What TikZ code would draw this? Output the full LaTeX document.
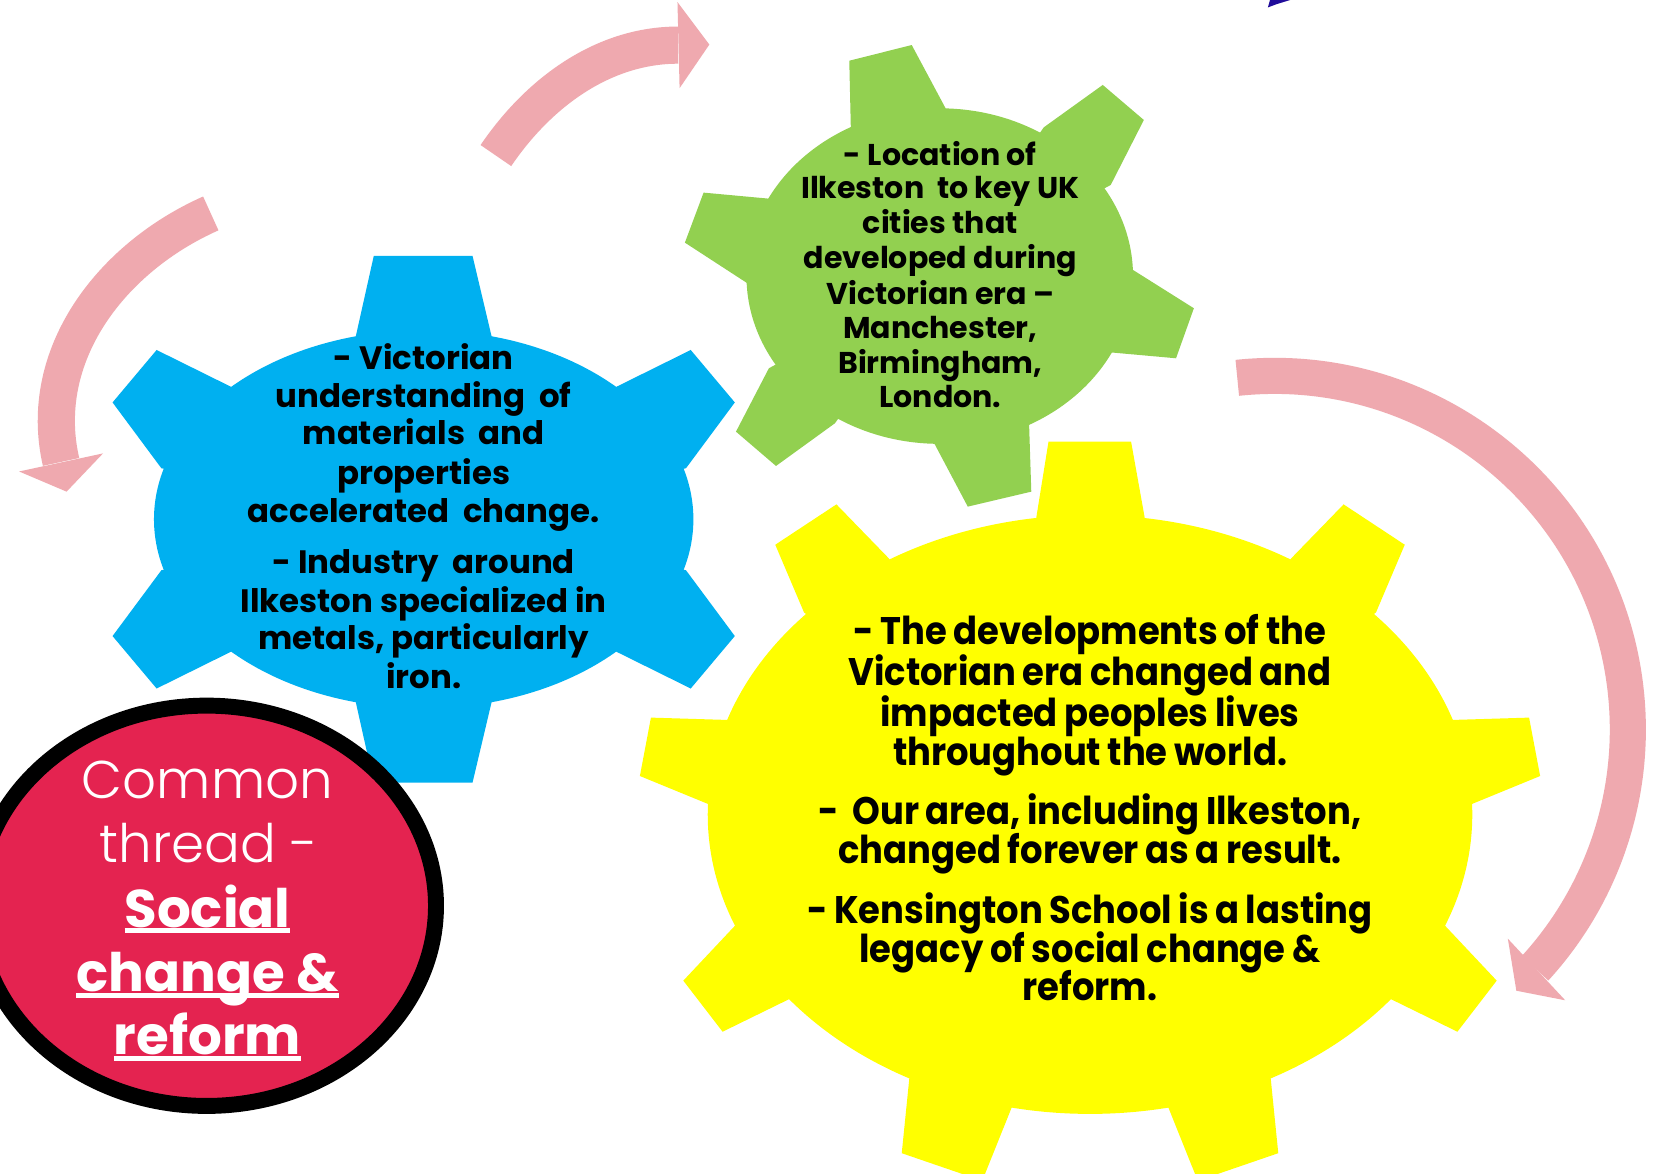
\documentclass[tikz,border=0pt]{standalone}
\usepackage{fontspec}
\setmainfont{Poppins}
\newfontfamily\ycond{Poppins}[FakeStretch=0.92]
\newfontfamily\plight{Poppins Light}
\definecolor{gblue}{HTML}{00B0F0}
\definecolor{ggreen}{HTML}{92D050}
\definecolor{gyellow}{HTML}{FFFF00}
\definecolor{apink}{HTML}{EFA9AF}
\definecolor{cred}{HTML}{E42350}
\definecolor{navyblue}{HTML}{200C9A}
\newsavebox\ulb
\newcommand\ulbox[1]{\sbox\ulb{#1}\rlap{\rule[-5.6pt]{\wd\ulb}{4.7pt}}\usebox\ulb}
\newcommand\tightsp{\spaceskip=0.17em\relax}
\begin{document}
\begin{tikzpicture}[x=1pt,y=-1pt,
  arrowband/.style={draw=apink, line width=35pt},
  headfill/.style={fill=apink},
  txt/.style={anchor=base, inner sep=0pt},
  btxt/.style={txt, font=\fontsize{30.5}{36}\selectfont\bfseries},
  gtxt/.style={txt, font=\fontsize{28.3}{33}\selectfont\bfseries},
  ytxt/.style={txt, font=\ycond\fontsize{36.2}{38}\selectfont\bfseries},
  ctxt/.style={txt, text=white, font=\plight\fontsize{50}{60}\selectfont},
  cbtxt/.style={txt, text=white, font=\fontsize{50}{60}\selectfont\bfseries}]
\useasboundingbox (0,0) rectangle (1568,1105);
\clip (0,0) rectangle (1568,1105);
\fill[white] (0,0) rectangle (1568,1105);

% pink arrows
\draw[arrowband] (467,146.5) .. controls (506.9,87.7) and (567.5,42.5) .. (638.5,42.5);
\fill[headfill] (638,2) -- (668,42) -- (640,83) -- cycle;
\draw[arrowband] (198.5,201) .. controls (104.5,242.7) and (34.3,334.7) .. (57.5,435);
\fill[headfill] (18,444) -- (62.7,463) -- (97,427) -- cycle;
\draw[arrowband, line width=34pt] (1200,687) ++(264:333) arc[start angle=264, end angle=402.5, radius=333];
\fill[headfill] (1420,884) -- (1428,933) -- (1474,942) -- cycle;

% navy fragment
\fill[navyblue] (1194,7) -- (1196,0) -- (1215,0) -- (1202,4) -- cycle;

% blue gear
\fill[gblue] (399,489) ellipse[x radius=254, y radius=178];
\fill[gblue] (352,241) -- (445,241) -- (463,317) -- (399,489) -- (335,317) -- cycle;
\fill[gblue] (147.5,329.6) -- (106,379) -- (152,441) -- (399,489) -- (217,364) -- cycle;
\fill[gblue] (650.5,329.6) -- (692,379) -- (646,441) -- (399,489) -- (581,364) -- cycle;
\fill[gblue] (106,599) -- (147.5,648.4) -- (217,614) -- (399,489) -- (152,537) -- cycle;
\fill[gblue] (692,599) -- (650.5,648.4) -- (581,614) -- (399,489) -- (646,537) -- cycle;
\fill[gblue] (352,737) -- (445,737) -- (463,661) -- (399,489) -- (335,661) -- cycle;

% green gear
\fill[ggreen] (885,260) ellipse[x radius=182, y radius=158];
\fill[ggreen] (799.8,57.2) -- (858.6,42.4) -- (890.5,102) -- (885,260) -- (801.4,127.1) -- cycle;
\fill[ggreen] (1038.5,80) -- (1077.2,113) -- (1046,174.2) -- (885,260) -- (983,119.9) -- cycle;
\fill[ggreen] (1124.3,290.3) -- (1107.5,337.4) -- (1038.5,331.2) -- (885,260) -- (1067.1,254.3) -- cycle;
\fill[ggreen] (971.2,463) -- (911.4,477.1) -- (879.8,417.5) -- (885,260) -- (968.9,392.4) -- cycle;
\fill[ggreen] (730.8,438.8) -- (693.1,406.5) -- (724.1,346.8) -- (885,260) -- (786.3,398.6) -- cycle;
\fill[ggreen] (645,228.5) -- (662.6,181.4) -- (730.8,187.7) -- (885,260) -- (703.9,266.8) -- cycle;

% yellow gear
\fill[gyellow] (1026.5,767) ellipse[x radius=360, y radius=282];
\fill[gyellow] (987.4,416) -- (1065.2,416) -- (1078,487.5) -- (1026.5,767) -- (975.9,487.5) -- cycle;
\fill[gyellow] (1265.3,475) -- (1322.9,513) -- (1295.8,576.8) -- (1026.5,767) -- (1216.3,525.5) -- cycle;
\fill[gyellow] (1440,675.8) -- (1450.4,730.8) -- (1385.3,757.5) -- (1026.5,767) -- (1368,678) -- cycle;
\fill[gyellow] (1409.5,923.5) -- (1372.5,971.6) -- (1309,940.5) -- (1026.5,767) -- (1360.4,871.3) -- cycle;
\fill[gyellow] (1203.8,1086) -- (1128,1112) -- (1100.2,1042.8) -- (1026.5,767) -- (1196.6,1014.9) -- cycle;
\fill[gyellow] (849.2,1086) -- (925,1112) -- (952.8,1042.8) -- (1026.5,767) -- (856.4,1014.9) -- cycle;
\fill[gyellow] (643.5,923.5) -- (680.5,971.6) -- (744,940.5) -- (1026.5,767) -- (692.6,871.3) -- cycle;
\fill[gyellow] (613,675.8) -- (602.6,730.8) -- (667.7,757.5) -- (1026.5,767) -- (685,678) -- cycle;
\fill[gyellow] (787.7,475) -- (730.1,513) -- (757.2,576.8) -- (1026.5,767) -- (836.7,525.5) -- cycle;

% common thread ellipse
\draw[line width=15pt, fill=cred] (194.6,853) ellipse[x radius=216, y radius=188.5];

% texts
\foreach \t/\yy [count=\i] in {{- Victorian}/347.8, {understanding\ \ of}/383.6, {materials\ \ and}/419, {properties}/455.8, {accelerated\ \ change.}/492.2, {- Industry\ \ around}/540.5, {Ilkeston specialized in}/577, {metals, particularly}/612.1, {iron.}/648.2}
  \node[btxt] (blue\i) at (399,\yy) {\t};
\foreach \t/\yy [count=\i] in {{- Location of}/155.4, {Ilkeston\ \ to key UK}/186.8, {cities that}/219.7, {developed during}/252.7, {Victorian era –}/286.6, {Manchester,}/318.6, {Birmingham,}/351.6, {London.}/383.6}
  \node[gtxt] (green\i) at (885.5,\yy) {\t};
\foreach \t/\yy [count=\i] in {{- The developments of the}/607.4, {Victorian era changed and}/646, {impacted peoples lives}/683.7, {throughout the world.}/721.3, {-\ \ Our area, including Ilkeston,}/776, {changed forever as a result.}/813, {- Kensington School is a lasting}/869.5, {legacy of social change \&}/906.5, {reform.}/942.6}
  \node[ytxt] (yellow\i) at (1026.5,\yy) {\tightsp\t};
\node[ctxt] (common1) at (195.4,752.4) {Common};
\node[ctxt] (common2) at (197,812.4) {thread -};
\node[cbtxt] (common3) at (195.4,873.3) {\ulbox{Social}};
\node[cbtxt] (common4) at (195.4,933.8) {\ulbox{change \&}};
\node[cbtxt] (common5) at (195.4,993.5) {\ulbox{reform}};
\end{tikzpicture}
\end{document}
